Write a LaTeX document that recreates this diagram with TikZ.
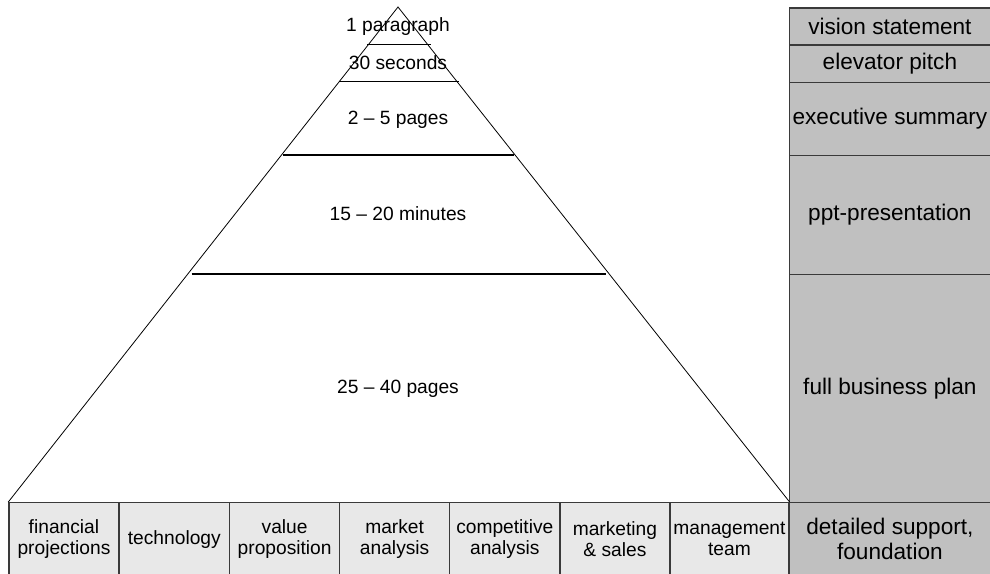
\documentclass[tikz,border=0pt]{standalone}
\usepackage{fontspec}
\setmainfont{Liberation Sans}
\definecolor{colgray}{HTML}{C0C0C0}
\definecolor{boxgray}{HTML}{E8E8E8}
\definecolor{edgegray}{HTML}{3A3A3A}
\begin{document}
\begin{tikzpicture}[x=1pt,y=-1pt,
  colbox/.style={draw=edgegray, line width=1.3pt, fill=colgray, anchor=north west, inner sep=0pt,
    align=center, font=\fontsize{22.6}{25}\selectfont},
  basebox/.style={draw=edgegray, line width=1.3pt, fill=boxgray, anchor=north west, inner sep=0pt,
    align=center, font=\fontsize{19.2}{21}\selectfont},
  tier/.style={line width=1.6pt, black},
  lbl/.style={font=\fontsize{19.2}{21}\selectfont, inner sep=0pt}]
\useasboundingbox (0,0) rectangle (990,573);
% right column
\node[colbox, minimum width=201.5pt, minimum height=37pt] (r1) at (788.5,7.3) {vision statement};
\node[colbox, minimum width=201.5pt, minimum height=37.2pt] (r2) at (788.5,44.3) {elevator pitch};
\node[colbox, minimum width=201.5pt, minimum height=73pt] (r3) at (788.5,81.5) {executive summary};
\node[colbox, minimum width=201.5pt, minimum height=119pt] (r4) at (788.5,154.5) {ppt-presentation};
\node[colbox, minimum width=201.5pt, minimum height=228.5pt] (r5) at (788.5,273.5) {full business plan};
\node[colbox, minimum width=201.5pt, minimum height=73pt] (r6) at (788.5,502) {detailed support,\\foundation};
% bottom boxes
\node[basebox, minimum width=110pt, minimum height=73pt] (b1) at (8.3,502) {financial\\projections};
\node[basebox, minimum width=110.7pt, minimum height=73pt] (b2) at (118.3,502) {technology};
\node[basebox, minimum width=110pt, minimum height=73pt] (b3) at (229,502) {value\\proposition};
\node[basebox, minimum width=110pt, minimum height=73pt] (b4) at (339,502) {market\\analysis};
\node[basebox, minimum width=110.3pt, minimum height=73pt] (b5) at (449,502) {competitive\\analysis};
\node[basebox, minimum width=110pt, minimum height=73pt] (b6) at (559.3,502) {marketing\\\& sales};
\node[basebox, minimum width=119pt, minimum height=73pt] (b7) at (669.3,502) {management\\team};
% pyramid
\coordinate (apex) at (398,7);
\draw[line width=0.8pt] (b1.north west) -- (apex) -- (b7.north east);
\draw[tier] (367,44.3) -- (431,44.3);
\draw[tier] (339,81.6) -- (459,81.6);
\draw[tier] (283.3,154.7) -- (514,154.7);
\draw[tier] (191.7,274) -- (606,274);
% pyramid labels
\node[lbl] (t1) at (398,27) {1 paragraph};
\node[lbl] (t2) at (398,63) {30 seconds};
\node[lbl] (t3) at (398,120) {2 – 5 pages};
\node[lbl] (t4) at (398,214) {15 – 20 minutes};
\node[lbl] (t5) at (398,389) {25 – 40 pages};
\end{tikzpicture}
\end{document}
